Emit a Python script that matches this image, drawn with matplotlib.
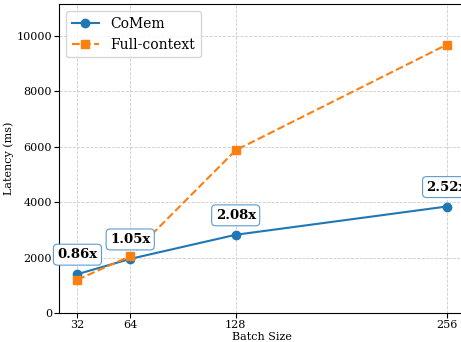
import matplotlib
matplotlib.use("Agg")
import matplotlib.pyplot as plt

# data
batch_sizes = [32, 64, 128, 256]
comem_latency = [1400, 1950, 2820, 3840]
full_latency = [1200, 2050, 5870, 9680]
speedups = ["0.86x", "1.05x", "2.08x", "2.52x"]

plt.rcParams['font.family'] = 'DejaVu Serif'

fig = plt.figure(figsize=(4.61, 3.42), dpi=100)
ax = fig.add_axes([0.128, 0.085, 0.881, 0.902])

ax.plot(batch_sizes, comem_latency, color='#1f77b4', linewidth=1.5,
        marker='o', markersize=6, label='CoMem')
ax.plot(batch_sizes, full_latency, color='#ff7f0e', linewidth=1.5,
        linestyle='--', marker='s', markersize=6, label='Full-context')

# speedup labels above the CoMem points
for x, y, s in zip(batch_sizes, comem_latency, speedups):
    ax.annotate(s, (x, y), xytext=(0, 14), textcoords='offset points',
                ha='center', va='center', fontsize=9.5, fontweight='bold',
                bbox=dict(boxstyle='round,pad=0.3', fc='white',
                          ec='#5b9bd0', lw=0.8))

ax.set_xticks(batch_sizes)
ax.set_ylim(0, max(full_latency) * 1.15)
ax.grid(True, linestyle='--', color='#cccccc', linewidth=0.6)
ax.tick_params(labelsize=8, pad=1.5)
ax.set_xlabel('Batch Size', fontsize=8, labelpad=1.5)
ax.set_ylabel('Latency (ms)', fontsize=8, labelpad=1.5)
ax.legend(loc='upper left', fontsize=10)

fig.savefig('out.png', dpi=100)
